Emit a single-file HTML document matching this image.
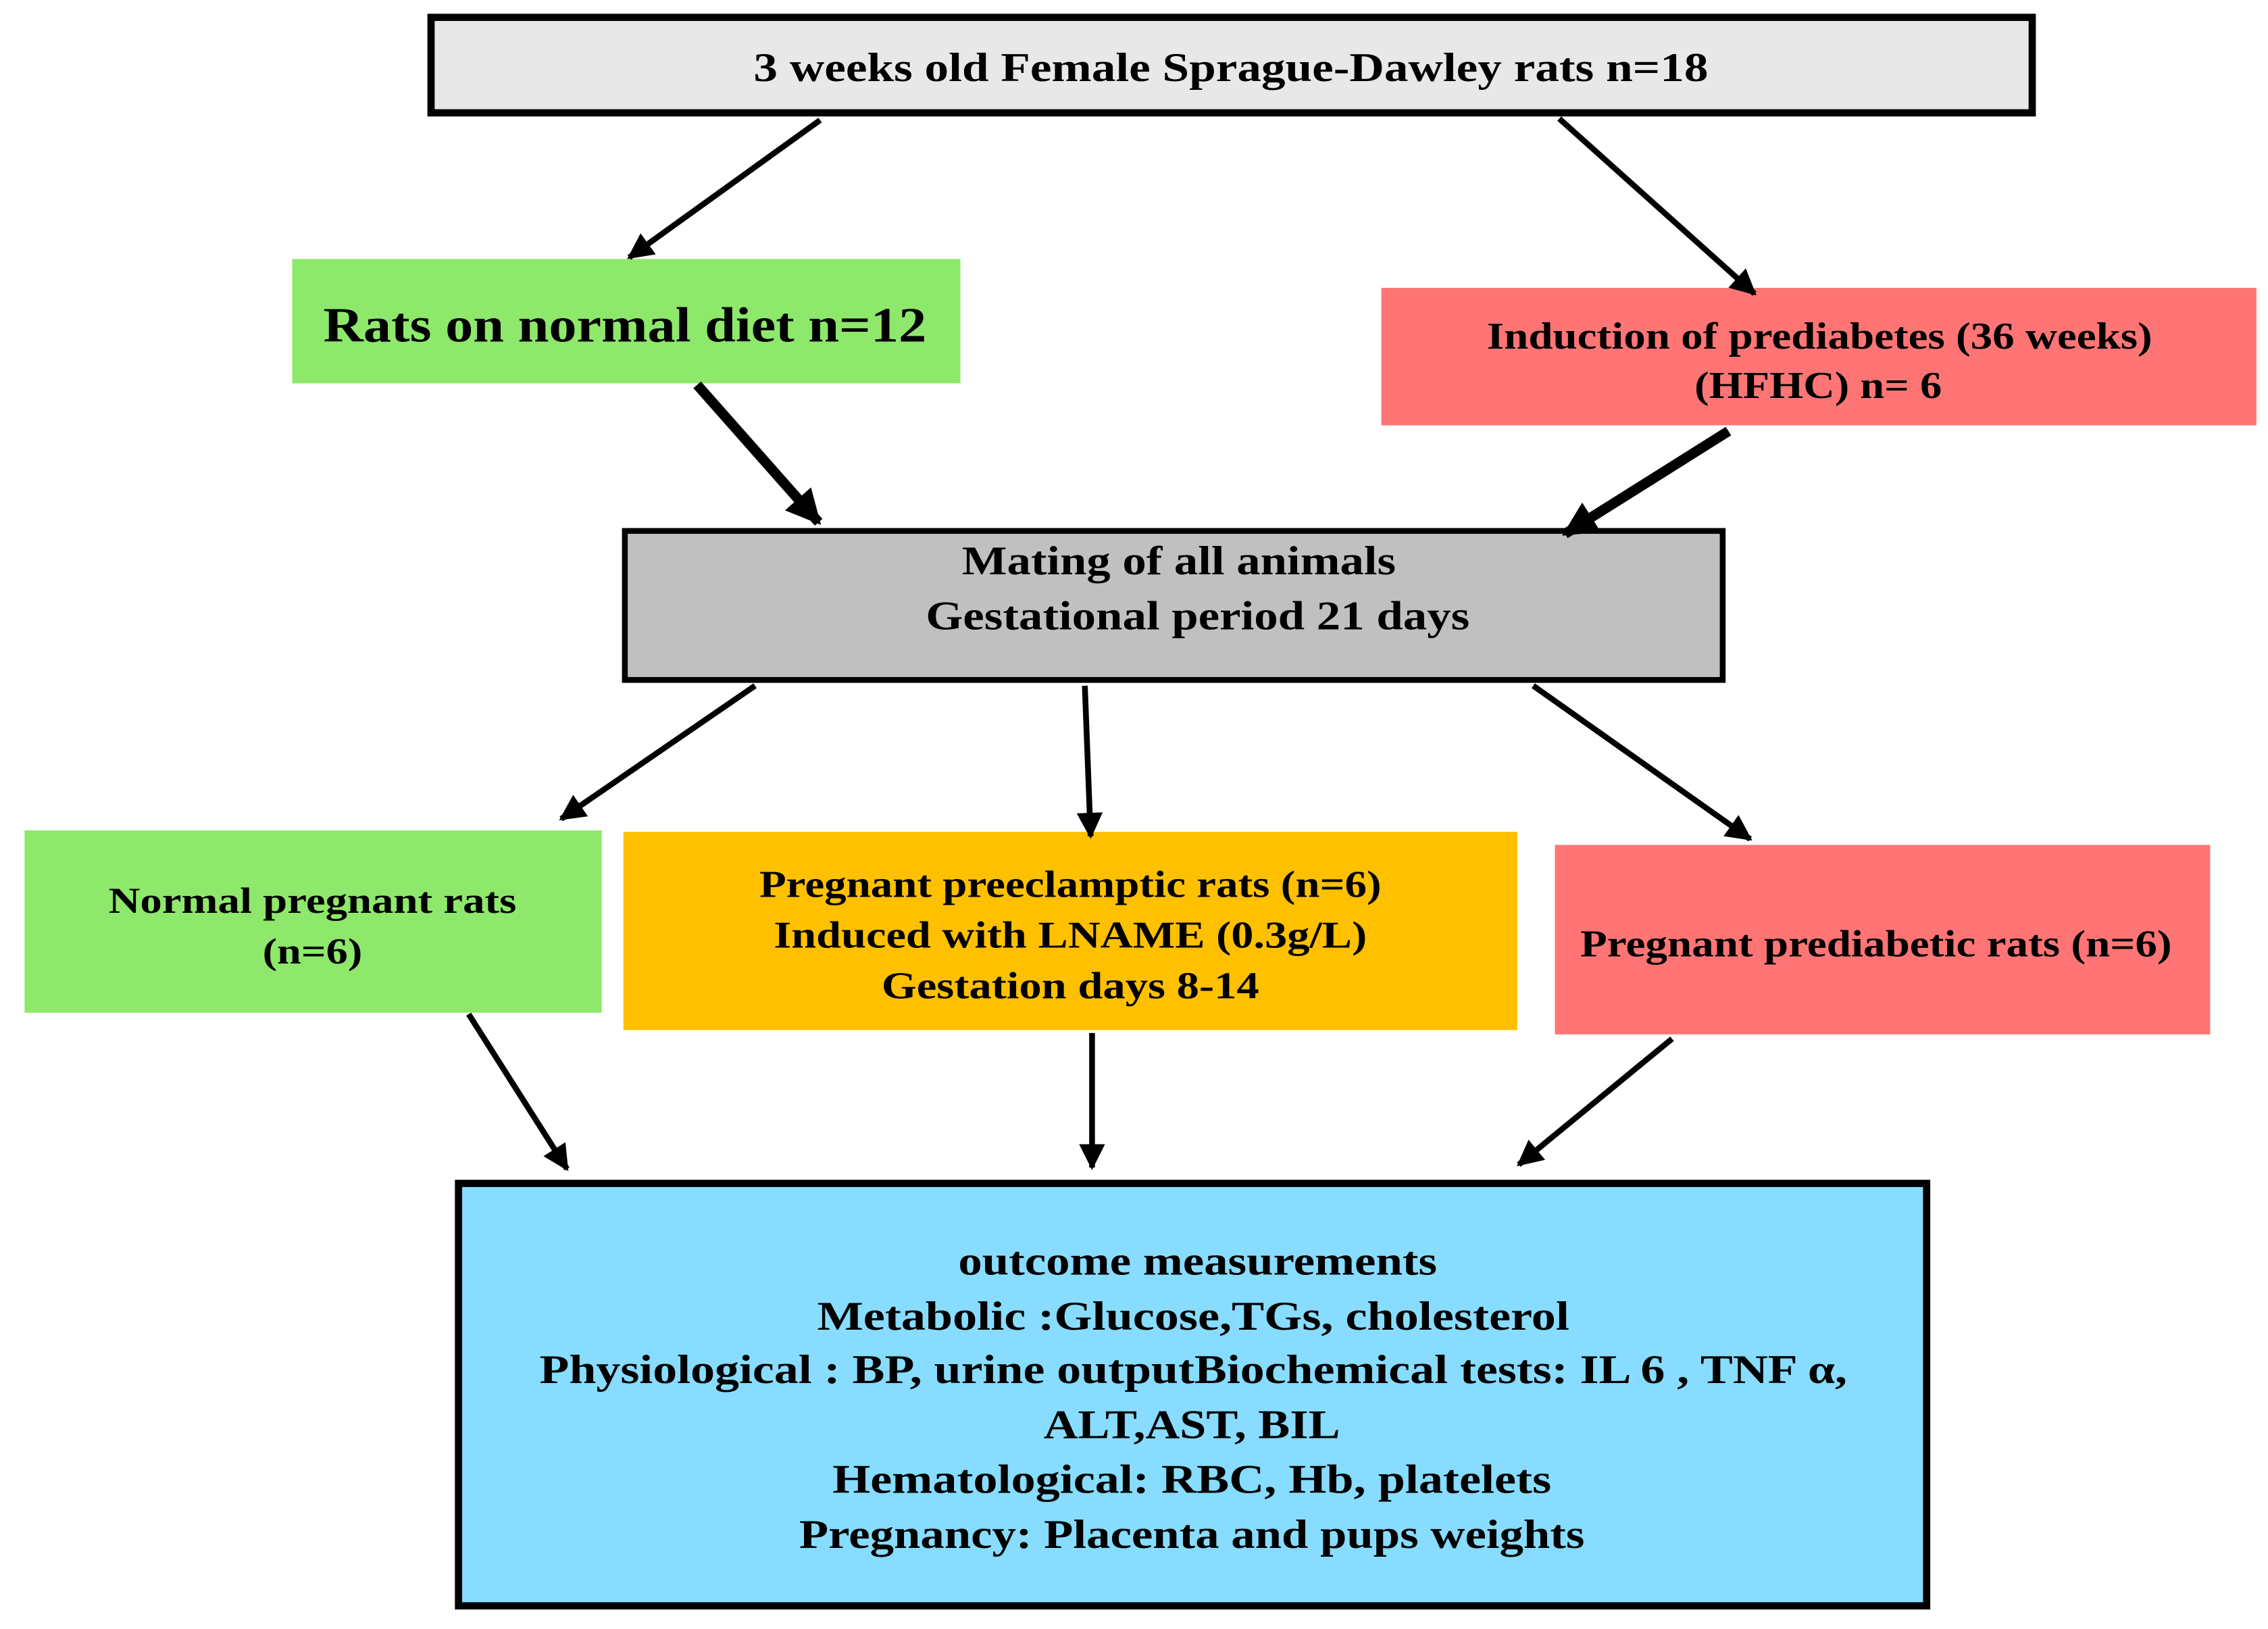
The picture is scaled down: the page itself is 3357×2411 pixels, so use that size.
<!DOCTYPE html>
<html><head><style>html,body{margin:0;padding:0;background:#fff}svg{display:block}</style></head>
<body>
<svg width="3357" height="2411" viewBox="0 0 1568 1126" preserveAspectRatio="none" xmlns="http://www.w3.org/2000/svg" font-family="'Liberation Serif', serif" font-weight="bold" text-anchor="middle">
<defs>
<marker id="a" markerWidth="6" markerHeight="6" refX="5" refY="3" orient="auto" markerUnits="userSpaceOnUse" viewBox="0 0 6 6">
</marker>
<marker id="h" viewBox="0 0 10 10" refX="9" refY="5" markerWidth="18" markerHeight="18" markerUnits="userSpaceOnUse" orient="auto"><path d="M0,0 L10,5 L0,10 z" fill="#000"/></marker>
<marker id="H" viewBox="0 0 10 10" refX="9" refY="5" markerWidth="24" markerHeight="24" markerUnits="userSpaceOnUse" orient="auto"><path d="M0,0 L10,5 L0,10 z" fill="#000"/></marker>
</defs>
<rect x="298" y="12" width="1107" height="66" fill="#e8e8e8" stroke="#000" stroke-width="5"/>
<text x="851" y="56" font-size="28" textLength="660" lengthAdjust="spacingAndGlyphs">3 weeks old Female Sprague-Dawley rats n=18</text>

<rect x="202" y="179" width="462" height="86" fill="#8ee86b"/>
<text x="432" y="236" font-size="34" textLength="417" lengthAdjust="spacingAndGlyphs">Rats on normal diet n=12</text>

<rect x="955" y="199" width="605" height="95" fill="#ff7575"/>
<text x="1258" y="241" font-size="26" textLength="460" lengthAdjust="spacingAndGlyphs">Induction of prediabetes (36 weeks)</text>
<text x="1257" y="275" font-size="26" textLength="171" lengthAdjust="spacingAndGlyphs">(HFHC) n= 6</text>

<rect x="432" y="367" width="759" height="103" fill="#c0c0c0" stroke="#000" stroke-width="4"/>
<text x="815" y="397" font-size="28" textLength="300" lengthAdjust="spacingAndGlyphs">Mating of all animals</text>
<text x="828" y="435" font-size="28" textLength="376" lengthAdjust="spacingAndGlyphs">Gestational period 21 days</text>

<rect x="17" y="574" width="399" height="126" fill="#8ee86b"/>
<text x="216" y="631" font-size="25" textLength="282" lengthAdjust="spacingAndGlyphs">Normal pregnant rats</text>
<text x="216" y="666" font-size="25" textLength="69" lengthAdjust="spacingAndGlyphs">(n=6)</text>

<rect x="431" y="575" width="618" height="137" fill="#ffc000"/>
<text x="740" y="620" font-size="26" textLength="430" lengthAdjust="spacingAndGlyphs">Pregnant preeclamptic rats (n=6)</text>
<text x="740" y="655" font-size="26" textLength="410" lengthAdjust="spacingAndGlyphs">Induced with  LNAME (0.3g/L)</text>
<text x="740" y="690" font-size="26" textLength="261" lengthAdjust="spacingAndGlyphs">Gestation days  8-14</text>

<rect x="1075" y="584" width="453" height="131" fill="#ff7575"/>
<text x="1297" y="661" font-size="26" textLength="409" lengthAdjust="spacingAndGlyphs">Pregnant prediabetic rats (n=6)</text>

<rect x="317" y="818" width="1015" height="292" fill="#87dcff" stroke="#000" stroke-width="5"/>
<g font-size="28">
<text x="828" y="881" textLength="331" lengthAdjust="spacingAndGlyphs">outcome measurements</text>
<text x="825" y="919" textLength="520" lengthAdjust="spacingAndGlyphs">Metabolic :Glucose,TGs,  cholesterol</text>
<text x="825" y="956" textLength="904" lengthAdjust="spacingAndGlyphs">Physiological :  BP, urine outputBiochemical tests: IL 6 , TNF α,</text>
<text x="824" y="994" textLength="205" lengthAdjust="spacingAndGlyphs">ALT,AST, BIL</text>
<text x="824" y="1032" textLength="497" lengthAdjust="spacingAndGlyphs">Hematological:  RBC, Hb, platelets</text>
<text x="824" y="1070" textLength="543" lengthAdjust="spacingAndGlyphs">Pregnancy: Placenta and pups weights</text>
</g>

<g stroke="#000" stroke-width="4" fill="none" marker-end="url(#h)">
<line x1="567" y1="83" x2="435" y2="178"/>
<line x1="1078" y1="82" x2="1213" y2="203"/>
<line x1="522" y1="474" x2="388" y2="566"/>
<line x1="750" y1="474" x2="754" y2="578"/>
<line x1="1060" y1="474" x2="1210" y2="580"/>
<line x1="324" y1="701" x2="392" y2="808"/>
<line x1="755" y1="714" x2="755" y2="807"/>
<line x1="1156" y1="718" x2="1050" y2="805"/>
</g>
<g stroke="#000" stroke-width="7" fill="none" marker-end="url(#H)">
<line x1="482" y1="266" x2="566" y2="361"/>
<line x1="1195" y1="298" x2="1082" y2="369"/>
</g>
</svg>
</body></html>
